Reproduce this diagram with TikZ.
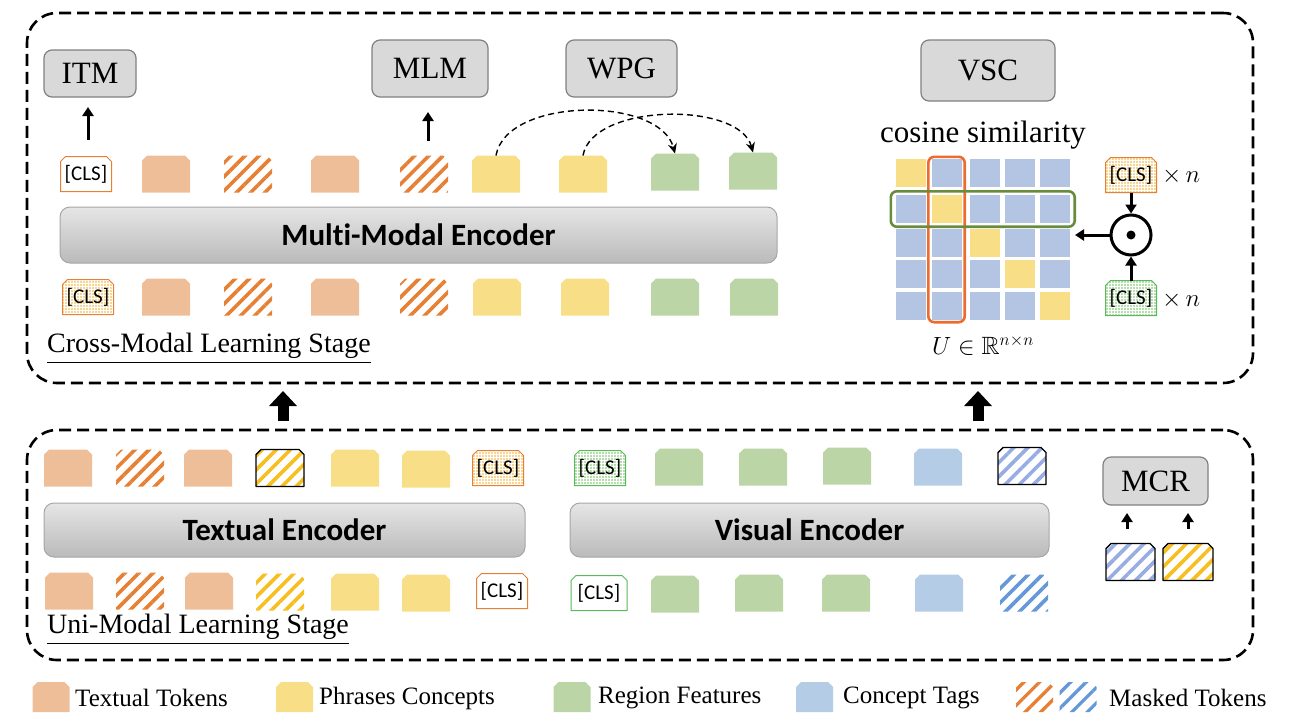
\documentclass[tikz,border=0pt]{standalone}
\usepackage{fontspec}
\usepackage{amssymb}
\setmainfont{Liberation Serif}
\newfontfamily\calib[Ligatures=NoCommon]{Carlito}
\usetikzlibrary{patterns.meta,arrows.meta,fit}
\definecolor{ctext}{RGB}{238,190,153}
\definecolor{cphr}{RGB}{248,222,135}
\definecolor{creg}{RGB}{188,213,166}
\definecolor{ctag}{RGB}{181,204,230}
\definecolor{cgrid}{RGB}{180,197,228}
\definecolor{corg}{RGB}{230,128,52}
\definecolor{cyel}{RGB}{246,190,30}
\definecolor{clav}{RGB}{150,172,226}
\definecolor{cblu}{RGB}{100,152,216}
\definecolor{cgrn}{RGB}{90,185,90}
\definecolor{cgrnd}{RGB}{110,190,90}
\definecolor{cobox}{RGB}{236,108,48}
\definecolor{cgbox}{RGB}{104,140,62}
\definecolor{cborder}{RGB}{128,128,128}
% token: name, x, y, width, height, path style, text
\newcommand\tk[7]{%
  \path[#6] ({#2-#4/2},{#3+#5/2}) -- ({#2-#4/2},{#3-#5/2+5}) -- ({#2-#4/2+5},{#3-#5/2})
    -- ({#2+#4/2-5},{#3-#5/2}) -- ({#2+#4/2},{#3-#5/2+5}) -- ({#2+#4/2},{#3+#5/2}) -- cycle;
  \node[tokbox, minimum width=#4pt, minimum height=#5pt] (#1) at (#2,#3) {#7};}
\begin{document}
\begin{tikzpicture}[x=1pt,y=-1pt,
  tokbox/.style={rectangle, inner sep=0pt, outer sep=0pt, font=\calib\fontsize{21}{24}\selectfont},
  ftext/.style={fill=ctext},
  fphr/.style={fill=cphr},
  freg/.style={fill=creg},
  ftag/.style={fill=ctag},
  mtext/.style={pattern={Lines[angle=45,distance=10pt,line width=3.6pt]}, pattern color=corg},
  myel/.style={pattern={Lines[angle=45,distance=10pt,line width=3.6pt]}, pattern color=cyel},
  mblu/.style={pattern={Lines[angle=45,distance=10pt,line width=3.6pt]}, pattern color=cblu},
  mlav/.style={pattern={Lines[angle=45,distance=10pt,line width=3.6pt]}, pattern color=clav},
  blk/.style={draw=black, line width=1.4pt, line join=round},
  clsO/.style={draw=corg, line width=1pt, fill=white},
  clsG/.style={draw=cgrn, line width=1pt, fill=white},
  clsOd/.style={draw=corg, line width=1pt, preaction={fill=white},
    pattern={Dots[distance=3pt,radius=0.8pt]}, pattern color=cyel!75!corg},
  clsGd/.style={draw=cgrn, line width=1pt, preaction={fill=white},
    pattern={Dots[distance=3pt,radius=0.8pt]}, pattern color=cgrnd},
  lbl/.style={draw=cborder, fill=black!15, line width=1.2pt, rounded corners=8pt,
    font=\fontsize{31}{36}\selectfont, inner sep=0pt},
  enc/.style={draw=black!35, top color=black!10, bottom color=black!27, line width=1pt, rounded corners=10pt,
    font=\calib\bfseries\fontsize{31}{34}\selectfont, inner sep=0pt},
  stage/.style={draw=black, dash pattern=on 12pt off 6pt, line width=2.6pt, rounded corners=30pt},
  sarrow/.style={line width=3pt, -{Triangle[width=11pt,length=9pt]}},
  barrow/.style={line width=11pt, -{Triangle[width=27pt,length=15pt]}},
  darc/.style={dash pattern=on 6pt off 4pt, line width=1.4pt, -{Stealth[length=10pt,width=9pt]}},
  cell/.style={minimum width=30pt, minimum height=28pt, inner sep=0pt},
  sw/.style={rectangle, minimum width=37pt, minimum height=30pt, inner sep=0pt},
  mleg/.style={pattern={Lines[angle=45,distance=11pt,line width=3.3pt]}},
  leg/.style={anchor=west, font=\fontsize{25}{28}\selectfont, inner sep=0pt}
]
\useasboundingbox (0,0) rectangle (1289,726);

% stage frames
\node[stage, minimum width=1226pt, minimum height=370pt] (top) at (640,198) {};
\node[stage, minimum width=1226pt, minimum height=230pt] (bot) at (640,545) {};

% task boxes
\node[lbl, minimum width=92pt, minimum height=47pt] (itm) at (90,73.5) {ITM};
\node[lbl, minimum width=116pt, minimum height=57pt] (mlm) at (430,68.5) {MLM};
\node[lbl, minimum width=111pt, minimum height=57pt] (wpg) at (621.5,68.5) {WPG};
\node[lbl, minimum width=134pt, minimum height=61pt] (vsc) at (988,70.5) {VSC};

\coordinate (a1s) at (88,140);
\coordinate (a1e) at (88,107);
\draw[sarrow] (a1s) -- (a1e);
\coordinate (a2s) at (428,141);
\coordinate (a2e) at (428,112);
\draw[sarrow] (a2s) -- (a2e);

% cross-modal top row
\tk{t1}{86}{174}{51}{35}{clsO}{[CLS]}
\tk{t2}{166}{174}{48}{37}{ftext}{}
\tk{t3}{248}{174}{48}{37}{mtext}{}
\tk{t4}{335}{174}{48}{37}{ftext}{}
\tk{t5}{424}{174}{48}{37}{mtext}{}
\tk{t6}{496}{174}{48}{37}{fphr}{}
\tk{t7}{583}{174}{48}{37}{fphr}{}
\tk{t8}{675}{172}{48}{37}{freg}{}
\tk{t9}{753}{171}{48}{37}{freg}{}

\draw[darc] (t6.north) to[out=80,in=105,looseness=0.85] (t8.north);
\draw[darc] (t7.north) to[out=80,in=105,looseness=0.8] (t9.north);

\node[enc, minimum width=717pt, minimum height=56pt] (mme) at (418.5,235) {Multi-Modal Encoder};

% cross-modal bottom row
\tk{b1}{88}{297}{51}{35}{clsOd}{[CLS]}
\tk{b2}{166}{297}{48}{37}{ftext}{}
\tk{b3}{248}{297}{48}{37}{mtext}{}
\tk{b4}{335}{297}{48}{37}{ftext}{}
\tk{b5}{424}{297}{48}{37}{mtext}{}
\tk{b6}{497}{297}{48}{37}{fphr}{}
\tk{b7}{585}{297}{48}{37}{fphr}{}
\tk{b8}{675}{297}{48}{37}{freg}{}
\tk{b9}{754}{297}{48}{37}{freg}{}

\node[anchor=west, inner sep=0pt, font=\fontsize{28}{32}\selectfont] (cms) at (47,349) {\underline{Cross-Modal Learning Stage}};

% cosine similarity
\node[font=\fontsize{31}{34}\selectfont, inner sep=0pt] (cos) at (983,135) {cosine similarity};
\foreach \r/\yy in {0/173,1/209,2/243,3/274,4/306}{
  \foreach \c/\xx in {0/911,1/946.5,2/985,3/1020,4/1054.5}{
    \ifnum\r=\c \def\cc{cphr}\else\def\cc{cgrid}\fi
    \node[cell, fill=\cc] (c\r\c) at (\xx,\yy) {};
  }
}
\node[draw=cobox, line width=2.6pt, rounded corners=6pt, inner xsep=3pt, inner ysep=2pt, fit=(c01)(c41)] (ocol) {};
\node[draw=cgbox, line width=2.6pt, rounded corners=6pt, inner xsep=5pt, inner ysep=3.5pt, fit=(c10)(c14)] (grow) {};
\node[font=\fontsize{25}{28}\selectfont, inner sep=0pt] (ulab) at (983,345) {$U\in\mathbb{R}^{n\times n}$};

\node[circle, draw, line width=3pt, minimum size=40pt, inner sep=0pt] (od) at (1131,235) {};
\node[circle, fill, minimum size=9pt, inner sep=0pt] (odc) at (1131,235) {};
\tk{ca}{1131}{175}{51}{35}{clsOd}{[CLS]}
\tk{cb}{1131}{298}{51}{35}{clsGd}{[CLS]}
\node[anchor=west, font=\fontsize{25}{28}\selectfont, inner sep=0pt] (xna) at (1162,176) {$\times\, n$};
\node[anchor=west, font=\fontsize{25}{28}\selectfont, inner sep=0pt] (xnb) at (1162,300) {$\times\, n$};
\coordinate (gend) at (1075,235);
\draw[sarrow] (od.west) -- (gend);
\draw[sarrow] (ca.south) -- (od.north);
\draw[sarrow] (cb.north) -- (od.south);

% big arrows between stages
\coordinate (ba1) at (283,421);
\coordinate (ba1e) at (283,391);
\draw[barrow] (ba1) -- (ba1e);
\coordinate (ba2) at (978,421);
\coordinate (ba2e) at (978,391);
\draw[barrow] (ba2) -- (ba2e);

% uni-modal upper row
\tk{u1}{68}{468}{48}{37}{ftext}{}
\tk{u2}{140}{468}{48}{37}{mtext}{}
\tk{u3}{208}{468}{48}{37}{ftext}{}
\tk{u4}{280}{468}{48}{37}{myel,blk}{}
\tk{u5}{355}{468}{48}{37}{fphr}{}
\tk{u6}{426}{469}{48}{37}{fphr}{}
\tk{u7}{498}{468}{51}{35}{clsOd}{[CLS]}
\tk{v1}{600}{468}{51}{35}{clsGd}{[CLS]}
\tk{v2}{679}{467}{48}{37}{freg}{}
\tk{v3}{763}{467}{48}{37}{freg}{}
\tk{v4}{847}{466}{48}{37}{freg}{}
\tk{v5}{938}{467}{48}{37}{ftag}{}
\tk{v6}{1022}{466}{48}{37}{mlav,blk}{}

\node[enc, minimum width=481pt, minimum height=54pt] (tenc) at (284.5,530) {Textual Encoder};
\node[enc, minimum width=479pt, minimum height=54pt] (venc) at (809.5,530) {Visual Encoder};

% uni-modal lower row
\tk{l1}{69}{591}{48}{37}{ftext}{}
\tk{l2}{140}{591}{48}{37}{mtext}{}
\tk{l3}{209}{591}{48}{37}{ftext}{}
\tk{l4}{280}{592}{48}{37}{myel}{}
\tk{l5}{355}{592}{48}{37}{fphr}{}
\tk{l6}{426}{593}{48}{37}{fphr}{}
\tk{l7}{502}{591}{51}{35}{clsO}{[CLS]}
\tk{w1}{599}{593}{56}{35}{clsG}{[CLS]}
\tk{w2}{675}{594}{48}{37}{freg}{}
\tk{w3}{759}{593}{48}{37}{freg}{}
\tk{w4}{846}{593}{48}{37}{freg}{}
\tk{w5}{939}{593}{48}{37}{ftag}{}
\tk{w6}{1024}{593}{48}{37}{mblu}{}

\node[anchor=west, inner sep=0pt, font=\fontsize{28}{32}\selectfont] (ums) at (47,630) {\underline{Uni-Modal Learning Stage}};

% MCR
\node[lbl, minimum width=105pt, minimum height=48pt] (mcr) at (1155.5,481) {MCR};
\coordinate (m1s) at (1127,529);
\coordinate (m1e) at (1127,513);
\draw[sarrow] (m1s) -- (m1e);
\coordinate (m2s) at (1188,529);
\coordinate (m2e) at (1188,513);
\draw[sarrow] (m2s) -- (m2e);
\tk{mc1}{1130.5}{562}{49}{37}{mlav,blk}{}
\tk{mc2}{1188}{562}{50}{37}{myel,blk}{}

% legend
\tk{s1}{51}{697}{37}{30}{ftext}{}
\node[leg] (n1) at (75,698) {Textual Tokens};
\tk{s2}{294.5}{697}{37}{30}{fphr}{}
\node[leg] (n2) at (319,698) {Phrases Concepts};
\tk{s3}{572}{697}{37}{30}{freg}{}
\node[leg] (n3) at (598,698) {Region Features};
\tk{s4}{814.5}{697}{37}{30}{ftag}{}
\node[leg] (n4) at (843,698) {Concept Tags};
\tk{s5}{1034.5}{697}{37}{30}{mleg,pattern color=corg}{}
\tk{s6}{1078}{697}{37}{30}{mleg,pattern color=cblu}{}
\node[leg] (n5) at (1109,698) {Masked Tokens};
\end{tikzpicture}
\end{document}
